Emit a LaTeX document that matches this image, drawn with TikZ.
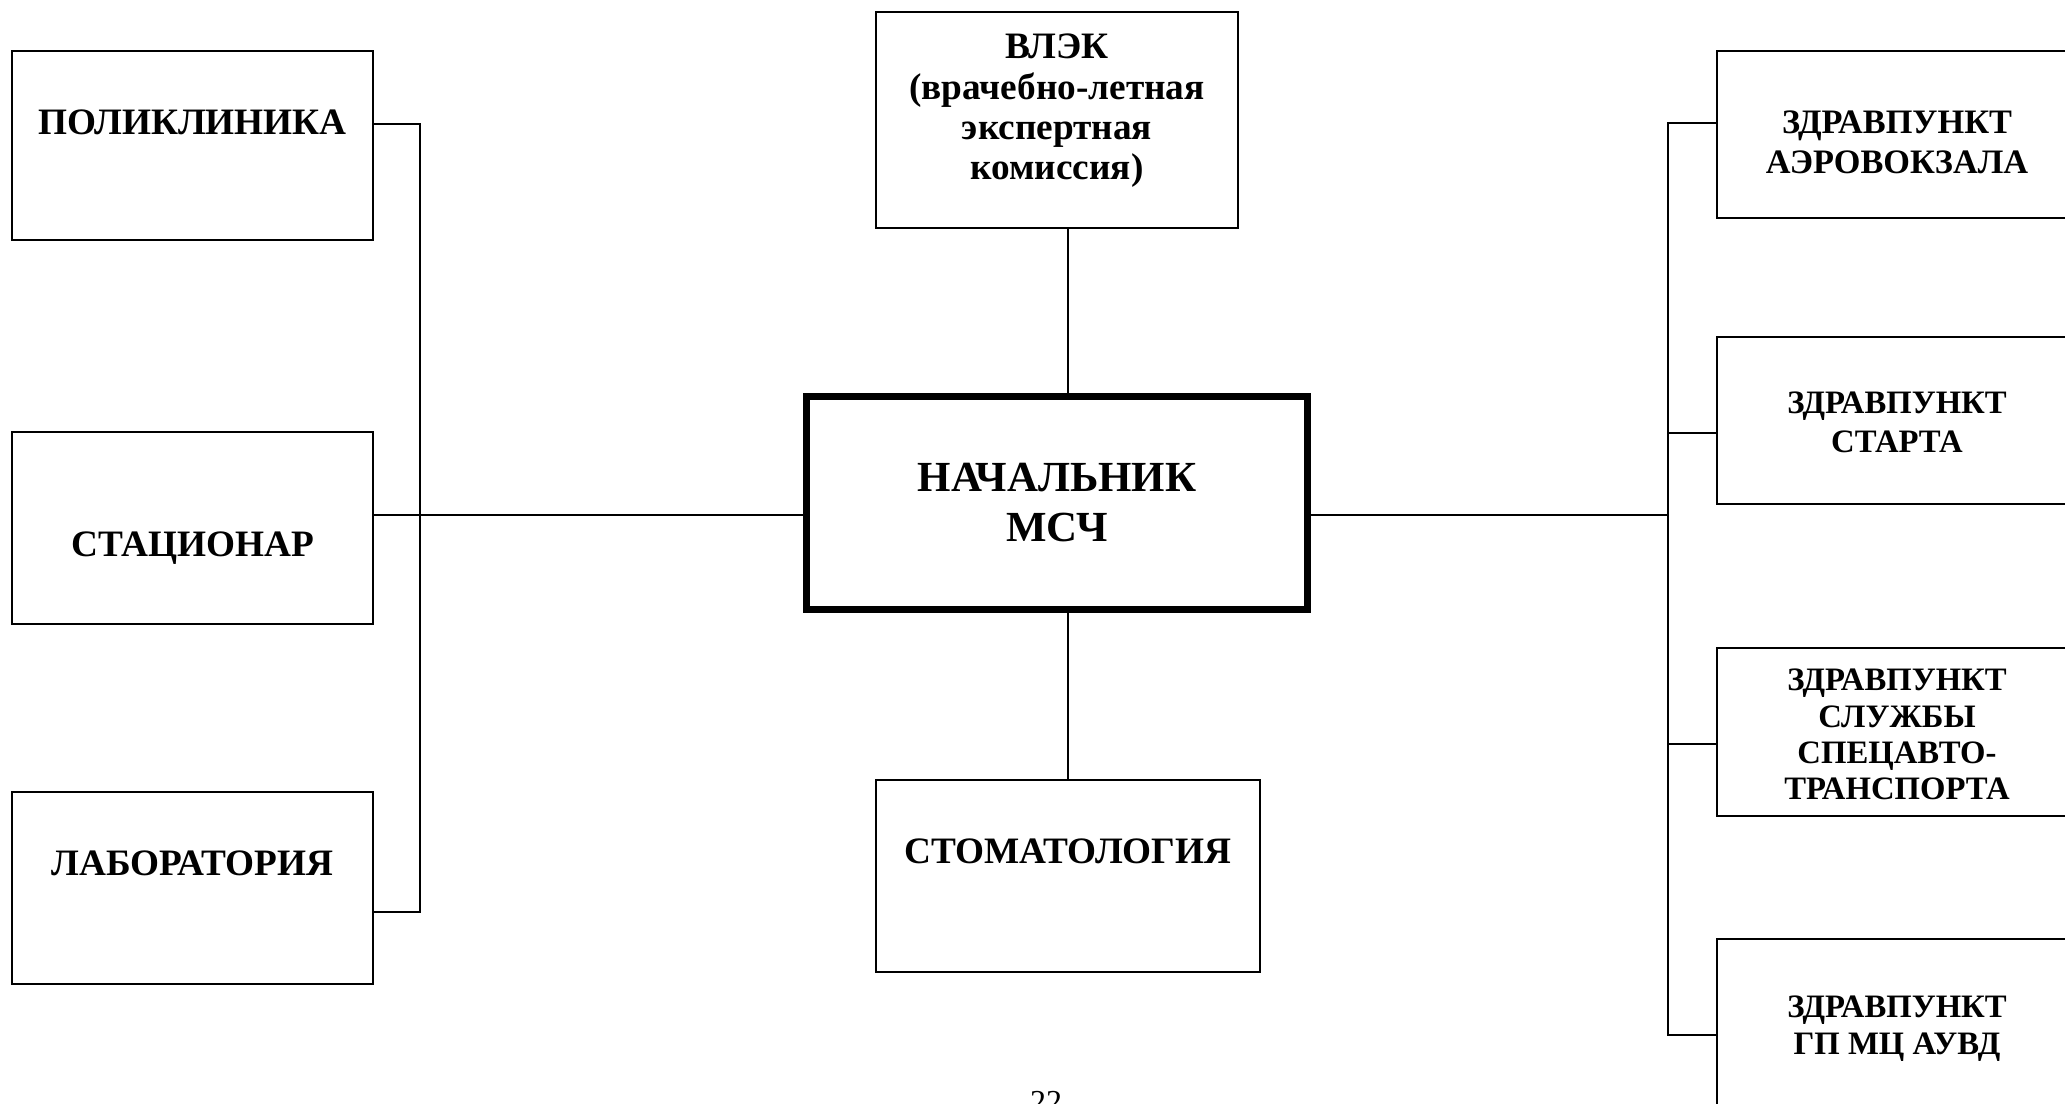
\documentclass[tikz,border=0pt]{standalone}
\usepackage{fontspec}
\setmainfont{Liberation Serif}
\begin{document}
\begin{tikzpicture}[x=0.01cm,y=-0.01cm,
  box/.style={draw, line width=0.5pt, rectangle, inner sep=0pt},
  chiefbox/.style={draw, line width=2pt, rectangle, inner sep=0pt},
  conn/.style={line width=0.5pt},
  lbl/.style={font=\fontsize{10.6}{12}\selectfont\bfseries, inner sep=0pt, anchor=base},
  biglbl/.style={font=\fontsize{12.2}{14}\selectfont\bfseries, inner sep=0pt, anchor=base},
  zlbla/.style={font=\fontsize{9.75}{11}\selectfont\bfseries, inner sep=0pt, anchor=base},
  zlbl/.style={font=\fontsize{9.3}{11}\selectfont\bfseries, inner sep=0pt, anchor=base},
  pagelbl/.style={font=\fontsize{9.1}{11}\selectfont, inner sep=0pt, anchor=base}]
\useasboundingbox (0,0) rectangle (2065,1104);

% boxes
\node[box, minimum width=3.61cm, minimum height=1.89cm] (poli) at (192.5,145.5) {};
\node[box, minimum width=3.61cm, minimum height=1.92cm] (stac) at (192.5,528) {};
\node[box, minimum width=3.61cm, minimum height=1.92cm] (lab) at (192.5,888) {};
\node[box, minimum width=3.62cm, minimum height=2.16cm] (vlek) at (1057,120) {};
\node[chiefbox, minimum width=5.01cm, minimum height=2.13cm] (chief) at (1057,503) {};
\node[box, minimum width=3.84cm, minimum height=1.92cm] (stom) at (1068,876) {};
\node[box, minimum width=3.61cm, minimum height=1.67cm] (z1) at (1897.5,134.5) {};
\node[box, minimum width=3.61cm, minimum height=1.67cm] (z2) at (1897.5,420.5) {};
\node[box, minimum width=3.61cm, minimum height=1.68cm] (z3) at (1897.5,732) {};
\node[box, minimum width=3.61cm, minimum height=1.68cm] (z4) at (1897.5,1023) {};

% texts
\node[lbl] (tpoli) at (192.5,135) {ПОЛИКЛИНИКА};
\node[lbl] (tstac) at (192.5,557) {СТАЦИОНАР};
\node[lbl] (tlab) at (192.5,876) {ЛАБОРАТОРИЯ};
\node[lbl] (tstom) at (1068,864) {СТОМАТОЛОГИЯ};
\node[lbl] (tvlek1) at (1057,59) {ВЛЭК};
\node[lbl] (tvlek2) at (1057,100) {(врачебно-летная};
\node[lbl] (tvlek3) at (1057,140) {экспертная};
\node[lbl] (tvlek4) at (1057,180) {комиссия)};
\node[biglbl] (tchief1) at (1057,492) {НАЧАЛЬНИК};
\node[biglbl] (tchief2) at (1057,542) {МСЧ};
\node[zlbla] (tz11) at (1897,134) {ЗДРАВПУНКТ};
\node[zlbla] (tz12) at (1897,174) {АЭРОВОКЗАЛА};
\node[zlbl] (tz21) at (1897,414) {ЗДРАВПУНКТ};
\node[zlbl] (tz22) at (1897,453) {СТАРТА};
\node[zlbl] (tz31) at (1897,691) {ЗДРАВПУНКТ};
\node[zlbl] (tz32) at (1897,728) {СЛУЖБЫ};
\node[zlbl] (tz33) at (1897,764) {СПЕЦАВТО-};
\node[zlbl] (tz34) at (1897,800) {ТРАНСПОРТА};
\node[zlbl] (tz41) at (1897,1018) {ЗДРАВПУНКТ};
\node[zlbl] (tz42) at (1897,1055) {ГП МЦ АУВД};
\node[pagelbl] (page) at (1046,1113) {22};

% connectors left
\coordinate (lb1) at (420,124);
\coordinate (lb2) at (420,515);
\coordinate (lb3) at (420,912);
\draw[conn] (poli.east |- lb1) -- (lb1) -- (lb3) -- (lab.east |- lb3);
\draw[conn] (stac.east |- lb2) -- (chief.west |- lb2);

% connectors right
\coordinate (rb1) at (1668,123);
\coordinate (rb2) at (1668,433);
\coordinate (rbm) at (1668,515);
\coordinate (rb3) at (1668,744);
\coordinate (rb4) at (1668,1035);
\draw[conn] (z1.west |- rb1) -- (rb1) -- (rb4) -- (z4.west |- rb4);
\draw[conn] (rb2) -- (z2.west |- rb2);
\draw[conn] (rb3) -- (z3.west |- rb3);
\draw[conn] (chief.east |- rbm) -- (rbm);

% connectors vertical
\coordinate (vx) at (1068,0);
\draw[conn] (vlek.south -| vx) -- (chief.north -| vx);
\draw[conn] (chief.south -| vx) -- (stom.north);
\end{tikzpicture}
\end{document}
